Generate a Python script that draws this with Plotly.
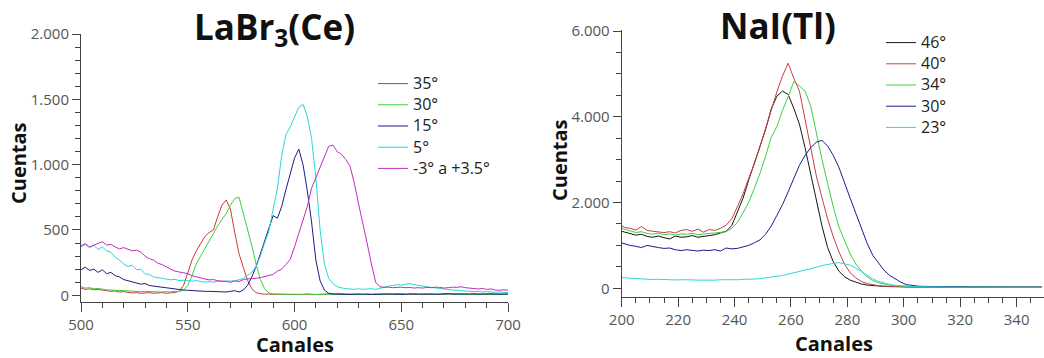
import plotly.graph_objects as go

# ---------------- LaBr3(Ce) data (channels 500..700 step 2) ----------------
labr_ch = list(range(500, 701, 2))
labr_names = ["35°", "30°", "15°", "5°", "-3° a +3.5°"]
labr_colors = ["#c43a3a", "#3ccf3c", "#1c1c84", "#2ad4d4", "#c22cc2"]

labr_35 = [55, 45, 50, 42, 45, 38, 35, 30, 32, 25,
           28, 22, 18, 20, 15, 18, 20, 15, 18, 20,
           15, 18, 22, 30, 75, 170, 270, 340, 390, 450,
           480, 500, 600, 690, 730, 660, 480, 320, 215, 115,
           50, 20, 12, 8, 10, 6, 8, 5, 7, 6,
           8, 5, 6, 9, 5, 7, 6, 8, 10, 7,
           9, 12, 8, 10, 7, 9, 6, 8, 10, 12,
           9, 8, 10, 7, 9, 11, 8, 6, 9, 7,
           8, 10, 12, 9, 7, 10, 8, 11, 9, 7,
           10, 8, 6, 9, 7, 8, 6, 9, 7, 8,
           6]
labr_30 = [65, 55, 58, 50, 52, 45, 42, 40, 38, 35,
           38, 32, 30, 32, 28, 30, 28, 25, 28, 25,
           28, 25, 30, 28, 40, 75, 150, 240, 300, 360,
           420, 480, 530, 580, 625, 690, 740, 752, 630, 490,
           380, 240, 120, 50, 18, 10, 8, 9, 7, 8,
           6, 8, 7, 9, 6, 8, 5, 7, 9, 6,
           8, 6, 9, 7, 5, 8, 6, 7, 9, 8,
           6, 9, 7, 8, 10, 6, 8, 7, 9, 8,
           10, 7, 9, 6, 8, 7, 9, 10, 8, 7,
           9, 7, 8, 6, 7, 9, 6, 8, 7, 6,
           7]
labr_15 = [195, 215, 190, 200, 175, 195, 165, 175, 150, 140,
           120, 110, 100, 95, 85, 90, 75, 70, 65, 60,
           55, 50, 48, 42, 40, 38, 35, 35, 32, 30,
           30, 28, 30, 28, 25, 30, 35, 25, 40, 75,
           140, 220, 320, 410, 520, 610, 590, 680, 810, 920,
           1050, 1120, 1000, 800, 560, 270, 110, 40, 15, 10,
           8, 7, 9, 6, 8, 10, 7, 9, 6, 8,
           7, 9, 10, 8, 6, 9, 7, 10, 12, 9,
           8, 11, 9, 7, 10, 8, 12, 9, 11, 8,
           10, 9, 12, 8, 10, 9, 11, 8, 10, 9,
           10]
labr_5 = [370, 390, 365, 385, 350, 370, 340, 330, 290, 270,
          240, 220, 230, 195, 200, 165, 160, 140, 135, 130,
          125, 118, 122, 112, 115, 110, 108, 112, 105, 100,
          105, 100, 108, 105, 110, 108, 112, 118, 130, 150,
          175, 220, 300, 400, 490, 660, 820, 1070, 1230, 1290,
          1370, 1440, 1462, 1370, 1200, 900, 500, 240, 130, 90,
          65, 55, 50, 48, 45, 50, 45, 48, 50, 45,
          55, 60, 70, 75, 80, 78, 85, 90, 82, 75,
          70, 65, 60, 55, 52, 48, 45, 40, 38, 35,
          32, 30, 28, 30, 25, 28, 25, 22, 25, 22,
          20]
labr_m3 = [380, 395, 370, 385, 395, 410, 385, 390, 370, 355,
           365, 350, 340, 345, 330, 300, 280, 270, 245, 235,
           215, 200, 185, 180, 170, 165, 150, 140, 130, 125,
           118, 120, 112, 110, 105, 100, 110, 105, 120, 125,
           125, 130, 135, 145, 150, 160, 185, 200, 235, 275,
           370, 480, 590, 680, 820, 900, 980, 1050, 1140, 1150,
           1100, 1080, 1040, 990, 860, 700, 560, 400, 240, 100,
           65, 60, 62, 58, 60, 62, 58, 60, 55, 58,
           55, 60, 58, 62, 60, 55, 58, 62, 60, 65,
           58, 55, 50, 48, 52, 45, 48, 40, 38, 42,
           38]
labr_series = [labr_35, labr_30, labr_15, labr_5, labr_m3]

# ---------------- NaI(Tl) data (channels 200, 201, 203 .. 349) ----------------
nai_ch = [200] + list(range(201, 350, 2))
nai_names = ["46°", "40°", "34°", "30°", "23°"]
nai_colors = ["#151515", "#c44040", "#3ccf3c", "#1c1c88", "#30d6d6"]

nai_46 = [1330, 1310, 1270, 1240, 1260, 1210, 1190, 1220, 1180, 1150,
          1220, 1190, 1200, 1230, 1190, 1210, 1240, 1250, 1290, 1330,
          1460, 1780, 2100, 2520, 2900, 3300, 3700, 4180, 4480, 4600,
          4520, 4200, 3830, 3280, 2650, 2000, 1450, 950, 620, 400,
          270, 190, 140, 100, 75, 60, 50, 45, 40, 35,
          32,
          30, 28, 30, 27, 29, 26, 28, 30, 27, 25,
          28, 26, 29, 27, 25, 28, 26, 27, 25, 28,
          26, 24, 27, 25, 26]
nai_40 = [1460, 1420, 1400, 1360, 1440, 1350, 1330, 1310, 1300, 1320,
          1290, 1350, 1370, 1330, 1380, 1310, 1370, 1350, 1400, 1470,
          1620, 1900, 2200, 2560, 2900, 3300, 3700, 4150, 4580, 4950,
          5250, 4900, 4600, 3950, 3280, 2620, 2110, 1620, 1200, 850,
          560, 360, 240, 160, 110, 80, 60, 50, 42, 38,
          35,
          32, 30, 33, 29, 31, 28, 30, 32, 29, 27,
          30, 28, 31, 29, 27, 30, 28, 29, 27, 30,
          28, 26, 29, 27, 28]
nai_34 = [1400, 1380, 1330, 1300, 1320, 1280, 1260, 1290, 1250, 1270,
          1240, 1270, 1260, 1280, 1250, 1270, 1280, 1290, 1300, 1320,
          1400, 1530, 1760, 2000, 2330, 2680, 3080, 3520, 3770, 4150,
          4470, 4820, 4720, 4600, 4250, 3580, 3000, 2450, 1900, 1430,
          1100, 800, 570, 400, 270, 180, 130, 95, 72, 58,
          48,
          42, 38, 35, 33, 31, 34, 30, 32, 29, 31,
          28, 30, 27, 29, 31, 28, 26, 29, 27, 28,
          30, 27, 26, 28, 27]
nai_30 = [1060, 1040, 1000, 980, 950, 1000, 970, 950, 930, 940,
          900, 880, 900, 880, 870, 890, 880, 900, 870, 940,
          920, 930, 960, 1000, 1060, 1130, 1260, 1450, 1700, 1950,
          2250, 2580, 2870, 3100, 3280, 3410, 3450, 3320, 3100, 2820,
          2480, 2100, 1750, 1380, 1050, 770, 580, 420, 300, 210,
          140,
          85, 62, 50, 44, 40, 36, 35, 33, 34, 31,
          32, 30, 31, 29, 30, 28, 30, 29, 27, 29,
          28, 26, 28, 27, 26]
nai_23 = [250, 245, 235, 225, 220, 210, 205, 210, 200, 205,
          195, 200, 190, 195, 190, 185, 195, 190, 200, 195,
          205, 200, 210, 205, 215, 225, 240, 255, 280, 300,
          330, 360, 390, 420, 450, 490, 530, 560, 580, 600,
          570, 540, 470, 380, 290, 220, 160, 120, 90, 70,
          55,
          45, 40, 36, 33, 31, 30, 28, 29, 27, 28,
          26, 27, 25, 27, 26, 24, 26, 25, 24, 26,
          25, 23, 25, 24, 23]
nai_series = [nai_46, nai_40, nai_34, nai_30, nai_23]

W, H = 1044, 358
FONT = "Open Sans"


def legend_label(s):
    return '<span style="font-size:16px">' + s + '</span>'


fig = go.Figure()
for name, col, ys in zip(labr_names, labr_colors, labr_series):
    fig.add_trace(go.Scatter(x=labr_ch, y=ys, name=legend_label(name), mode="lines",
                             line=dict(color=col, width=1),
                             xaxis="x", yaxis="y", legend="legend"))
for name, col, ys in zip(nai_names, nai_colors, nai_series):
    fig.add_trace(go.Scatter(x=nai_ch, y=ys, name=legend_label(name), mode="lines",
                             line=dict(color=col, width=1),
                             xaxis="x2", yaxis="y2", legend="legend2"))

axis_common = dict(showgrid=False, zeroline=False, showline=True,
                   linecolor="#444", linewidth=1, ticks="outside",
                   tickcolor="#444", tickwidth=1, automargin=False,
                   tickfont=dict(family=FONT, size=15, color="#555"))

fig.update_layout(
    width=W, height=H,
    margin=dict(l=0, r=0, t=0, b=0, autoexpand=False),
    paper_bgcolor="white", plot_bgcolor="white",
    separators=",.",
    showlegend=True,
    xaxis=dict(domain=[81 / W, 508 / W], range=[500, 700], dtick=50, ticklen=9,
               minor=dict(dtick=10, ticks="outside", ticklen=5, tickcolor="#444"),
               anchor="y", **axis_common),
    yaxis=dict(domain=[(H - 302.3) / H, (H - 33.5) / H], range=[-54, 2005], dtick=500,
               tickformat=",d", ticklen=8,
               minor=dict(dtick=100, ticks="outside", ticklen=5, tickcolor="#444"),
               anchor="x", **axis_common),
    xaxis2=dict(domain=[621.7 / W, 1.0], range=[200, 349.7], dtick=20, ticklen=9,
                minor=dict(dtick=5, ticks="outside", ticklen=5, tickcolor="#444"),
                anchor="y2", **axis_common),
    yaxis2=dict(domain=[(H - 296.7) / H, (H - 30.2) / H], range=[-196, 6020], dtick=2000,
                tickformat=",d", ticklen=8,
                minor=dict(dtick=500, ticks="outside", ticklen=5, tickcolor="#444"),
                anchor="x2", **axis_common),
    legend=dict(x=373 / W, y=(H - 68) / H, xanchor="left", yanchor="top",
                bgcolor="rgba(0,0,0,0)", font=dict(family=FONT, size=14, color="#222"),
                tracegroupgap=0),
    legend2=dict(x=881 / W, y=(H - 27) / H, xanchor="left", yanchor="top",
                 bgcolor="rgba(0,0,0,0)", font=dict(family=FONT, size=14, color="#222"),
                 tracegroupgap=0),
)

ann_font_title = dict(family=FONT, size=35, color="#111")
ann_font_axis = dict(family=FONT, size=20, color="#111")
fig.add_annotation(text="<b>LaBr<sub>3</sub>(Ce)</b>", x=274.5 / W, y=(H - 28) / H,
                   xref="paper", yref="paper", showarrow=False, font=ann_font_title,
                   xanchor="center", yanchor="middle")
fig.add_annotation(text="<b>NaI(Tl)</b>", x=778 / W, y=(H - 26) / H,
                   xref="paper", yref="paper", showarrow=False, font=ann_font_title,
                   xanchor="center", yanchor="middle")
fig.add_annotation(text="<b>Cuentas</b>", x=18 / W, y=(H - 163) / H, textangle=-90,
                   xref="paper", yref="paper", showarrow=False, font=ann_font_axis,
                   xanchor="center", yanchor="middle")
fig.add_annotation(text="<b>Cuentas</b>", x=559 / W, y=(H - 160) / H, textangle=-90,
                   xref="paper", yref="paper", showarrow=False, font=ann_font_axis,
                   xanchor="center", yanchor="middle")
fig.add_annotation(text="<b>Canales</b>", x=295 / W, y=(H - 344) / H,
                   xref="paper", yref="paper", showarrow=False, font=ann_font_axis,
                   xanchor="center", yanchor="middle")
fig.add_annotation(text="<b>Canales</b>", x=834 / W, y=(H - 343) / H,
                   xref="paper", yref="paper", showarrow=False, font=ann_font_axis,
                   xanchor="center", yanchor="middle")

fig.write_html("out.html")
